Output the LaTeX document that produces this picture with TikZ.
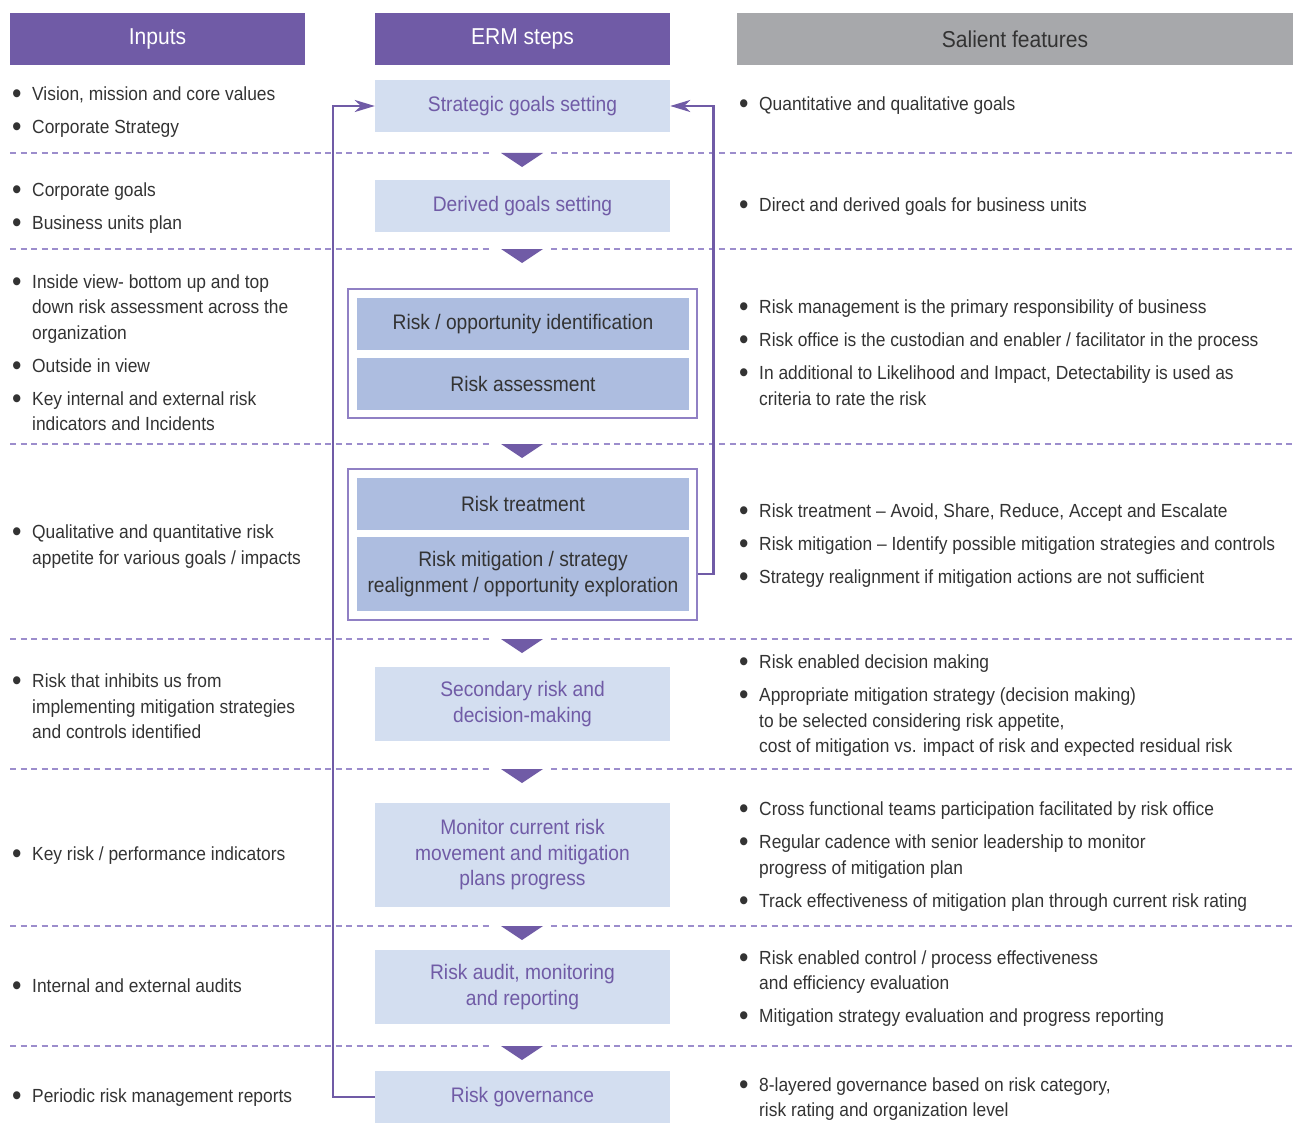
\documentclass[tikz,border=0pt]{standalone}
\usepackage{fontspec}
\setmainfont{Liberation Sans}[FakeStretch=0.915]
\usetikzlibrary{arrows.meta}

\definecolor{ermpurple}{HTML}{705BA6}
\definecolor{salgray}{HTML}{A7A8AB}
\definecolor{lightbox}{HTML}{D3DEF0}
\definecolor{midbox}{HTML}{ADBDE0}
\definecolor{framecol}{HTML}{9080C4}
\definecolor{dashcol}{HTML}{9C8DCC}
\definecolor{textgray}{HTML}{333333}

\newcommand{\bul}{\makebox[20pt][l]{\raisebox{-0.16em}{\scalebox{1.55}{\textbullet}}}}

\tikzset{
	colhead/.style={text=white, minimum height=52pt, inner sep=0pt, font=\fontsize{23}{27}\selectfont},
	lightstep/.style={fill=lightbox, text=ermpurple, minimum width=295pt, align=center, inner sep=0pt, font=\fontsize{21}{25.5}\selectfont},
	darkstep/.style={fill=midbox, text=textgray, minimum width=332pt, align=center, inner sep=0pt, font=\fontsize{21}{25.5}\selectfont},
	grpbox/.style={draw=framecol, line width=1.5pt, minimum width=349pt, inner sep=0pt},
	rowline/.style={draw=dashcol, line width=1.2pt, dash pattern=on 6pt off 4.5pt},
	feedback/.style={draw=ermpurple, line width=2.6pt, -{Stealth[length=20pt,width=12pt,inset=6pt]}},
	bullets/.style={anchor=west, inner sep=0pt, yshift=-1.5pt, text=textgray, font=\fontsize{19}{25.5}\selectfont},
}

\begin{document}
\begin{tikzpicture}[x=1pt, y=-1pt]
	\useasboundingbox (0,0) rectangle (1293,1137);

	% column heads
	\node (hin) at (157.5,39) [colhead, fill=ermpurple, minimum width=295pt] {Inputs};
	\node (herm) at (522.5,39) [colhead, fill=ermpurple, minimum width=295pt] {ERM steps};
	\node (hsal) at (1015,39) [colhead, fill=salgray, text=textgray, minimum width=556pt] {Salient features};

	% row separators
	\foreach \y in {153,249,444,639,769,926,1046} {
		\draw[rowline] (10,\y) -- (492,\y);
		\draw[rowline] (551,\y) -- (1293,\y);
		\fill[ermpurple] (501,\y) -- (543,\y) -- (522,\y+14) -- cycle;
	}

	% ERM steps
	\node (s1) at (522.5,106) [lightstep, minimum height=52pt] {Strategic goals setting};
	\node (s2) at (522.5,206) [lightstep, minimum height=52pt] {Derived goals setting};
		\node (g1) at (522.5,353.5) [grpbox, minimum height=129pt] {};
		\node (a1) at (523,324) [darkstep, minimum height=52pt] {Risk / opportunity identification};
		\node (a2) at (523,384) [darkstep, minimum height=52pt] {Risk assessment};
		\node (g2) at (522.5,544.5) [grpbox, minimum height=151pt] {};
		\node (b1) at (523,504) [darkstep, minimum height=52pt] {Risk treatment};
		\node (b2) at (523,574) [darkstep, minimum height=74pt] {Risk mitigation / strategy\\realignment / opportunity exploration};
	\node (s5) at (522.5,704) [lightstep, minimum height=74pt] {Secondary risk and\\decision-making};
	\node (s6) at (522.5,855) [lightstep, minimum height=104pt] {Monitor current risk\\movement and mitigation\\plans progress};
	\node (s7) at (522.5,987) [lightstep, minimum height=74pt] {Risk audit, monitoring\\and reporting};
	\node (s8) at (522.5,1097) [lightstep, minimum height=52pt] {Risk governance};

	% feedback loops
	\draw[feedback] (s8.west) -- ++(-42,0) |- (s1.west);
	\draw[feedback] (b2.east -| g2.east) -- ++(16,0) |- (s1.east);

	% inputs
	\node (in1) at (12,110) [bullets] {\begin{tabular}{@{}l@{}l@{}}
		\bul & Vision, mission and core values\\[7.5pt]
		\bul & Corporate Strategy
	\end{tabular}};
	\node (in2) at (12,206.5) [bullets] {\begin{tabular}{@{}l@{}l@{}}
		\bul & Corporate goals\\[7.5pt]
		\bul & Business units plan
	\end{tabular}};
	\node (in3) at (12,353) [bullets] {\begin{tabular}{@{}l@{}l@{}}
		\bul & Inside view- bottom up and top\\
		& down risk assessment across the\\
		& organization\\[7.5pt]
		\bul & Outside in view\\[7.5pt]
		\bul & Key internal and external risk\\
		& indicators and Incidents
	\end{tabular}};
	\node (in4) at (12,545) [bullets] {\begin{tabular}{@{}l@{}l@{}}
		\bul & Qualitative and quantitative risk\\
		& appetite for various goals / impacts
	\end{tabular}};
	\node (in5) at (12,706.5) [bullets] {\begin{tabular}{@{}l@{}l@{}}
		\bul & Risk that inhibits us from\\
		& implementing mitigation strategies\\
		& and controls identified
	\end{tabular}};
	\node (in6) at (12,854) [bullets] {\bul Key risk / performance indicators};
	\node (in7) at (12,986) [bullets] {\bul Internal and external audits};
	\node (in8) at (12,1096) [bullets] {\bul Periodic risk management reports};

	% salient features
	\node (f1) at (739,104) [bullets] {\bul Quantitative and qualitative goals};
	\node (f2) at (739,205) [bullets] {\bul Direct and derived goals for business units};
	\node (f3) at (739,353) [bullets] {\begin{tabular}{@{}l@{}l@{}}
		\bul & Risk management is the primary responsibility of business\\[7.5pt]
		\bul & Risk office is the custodian and enabler / facilitator in the process\\[7.5pt]
		\bul & In additional to Likelihood and Impact, Detectability is used as\\
		& criteria to rate the risk
	\end{tabular}};
	\node (f4) at (739,544) [bullets] {\begin{tabular}{@{}l@{}l@{}}
		\bul & Risk treatment – Avoid, Share, Reduce, Accept and Escalate\\[7.5pt]
		\bul & Risk mitigation – Identify possible mitigation strategies and controls\\[7.5pt]
		\bul & Strategy realignment if mitigation actions are not sufficient
	\end{tabular}};
	\node (f5) at (739,704) [bullets] {\begin{tabular}{@{}l@{}l@{}}
		\bul & Risk enabled decision making\\[7.5pt]
		\bul & Appropriate mitigation strategy (decision making)\\
		& to be selected considering risk appetite,\\
		& cost of mitigation vs. impact of risk and expected residual risk
	\end{tabular}};
	\node (f6) at (739,855) [bullets] {\begin{tabular}{@{}l@{}l@{}}
		\bul & Cross functional teams participation facilitated by risk office\\[7.5pt]
		\bul & Regular cadence with senior leadership to monitor\\
		& progress of mitigation plan\\[7.5pt]
		\bul & Track effectiveness of mitigation plan through current risk rating
	\end{tabular}};
	\node (f7) at (739,987) [bullets] {\begin{tabular}{@{}l@{}l@{}}
		\bul & Risk enabled control / process effectiveness\\
		& and efficiency evaluation\\[7.5pt]
		\bul & Mitigation strategy evaluation and progress reporting
	\end{tabular}};
	\node (f8) at (739,1097.5) [bullets] {\begin{tabular}{@{}l@{}l@{}}
		\bul & 8-layered governance based on risk category,\\
		& risk rating and organization level
	\end{tabular}};
\end{tikzpicture}
\end{document}
